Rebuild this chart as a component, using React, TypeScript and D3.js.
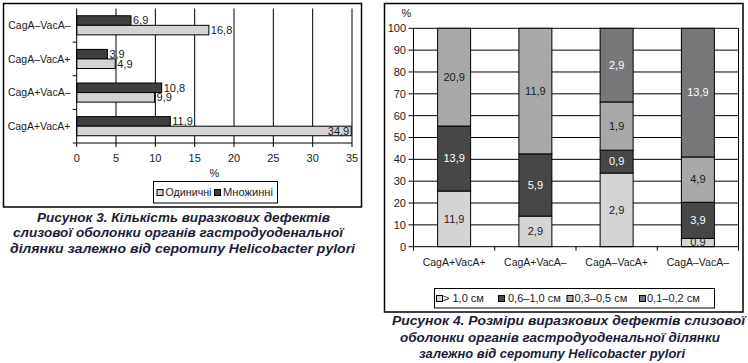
import React, { useRef, useEffect } from "react";
import * as d3 from "d3";

// Figure 3: number of ulcer defects by serotype
const strains = ["CagA+VacA+", "CagA+VacA–", "CagA–VacA+", "CagA–VacA–"];
const singleDefects = [34.9, 9.9, 4.9, 16.8];
const multipleDefects = [11.9, 10.8, 3.9, 6.9];
const countTicks = [0, 5, 10, 15, 20, 25, 30, 35];
const countLegend = ["Одиничні", "Множинні"];

// Figure 4: size of ulcer defects by serotype
const sizeKeys = ["> 1,0 см", "0,6–1,0 см", "0,3–0,5 см", "0,1–0,2 см"];
const over10 = [11.9, 2.9, 2.9, 0.9];
const from06to10 = [13.9, 5.9, 0.9, 3.9];
const from03to05 = [20.9, 11.9, 1.9, 4.9];
const from01to02 = [0, 0, 2.9, 13.9];
const percentTicks = [0, 10, 20, 30, 40, 50, 60, 70, 80, 90, 100];

const caption3 = [
    "Рисунок 3. Кількість виразкових дефектів",
    "слизової оболонки органів гастродуоденальної",
    "ділянки залежно від серотипу Helicobacter pylori",
];
const caption4 = [
    "Рисунок 4. Розміри виразкових дефектів слизової",
    "оболонки органів гастродуоденальної ділянки",
    "залежно від серотипу Helicobacter pylori",
];

const FONT = "'Liberation Sans', Arial, sans-serif";
const INK = "#1a1a1a";
const CAPTION = "#1c1c38";

export default function App() {
    const svgRef = useRef<SVGSVGElement>(null);

    useEffect(() => {
        if (!svgRef.current) return;
        const svg = d3.select(svgRef.current);
        svg.selectAll("*").remove();
        svg.attr("font-family", FONT);

        // ---------- Figure 3 (horizontal grouped bars) ----------
        const g3 = svg.append("g");
        g3.append("rect")
            .attr("x", 3.5).attr("y", 3.5)
            .attr("width", 358).attr("height", 203.5)
            .attr("fill", "#fff").attr("stroke", "#000").attr("stroke-width", 1.5);

        const x = d3.scaleLinear().domain([0, 35]).range([76.7, 352]);
        const y = d3.scaleBand<string>()
            .domain([...strains].reverse())
            .range([8.5, 143]);
        const yInner = d3.scaleBand<string>()
            .domain(["multi", "single"])
            .range([0, y.bandwidth()])
            .paddingInner(0)
            .paddingOuter(0.76);

        // grid
        g3.append("g")
            .selectAll("line")
            .data(countTicks.slice(1))
            .join("line")
            .attr("x1", d => x(d)).attr("x2", d => x(d))
            .attr("y1", 8.5).attr("y2", 143)
            .attr("stroke", "#000").attr("stroke-width", 1);

        const rows = strains.map((s, i) => ({ strain: s, single: singleDefects[i], multi: multipleDefects[i] }));
        const barColors: Record<string, string> = { single: "#d3d3d3", multi: "#3f3f3f" };

        rows.forEach(r => {
            (["multi", "single"] as const).forEach(k => {
                const v = r[k];
                const by = y(r.strain)! + yInner(k)!;
                const bh = yInner.bandwidth();
                g3.append("rect")
                    .attr("x", x(0)).attr("y", by)
                    .attr("width", x(v) - x(0)).attr("height", bh)
                    .attr("fill", barColors[k]).attr("stroke", "#000").attr("stroke-width", 1);
                const label = v.toFixed(1).replace(".", ",");
                const inside = x(v) + 24 > x(35);
                g3.append("text")
                    .attr("x", inside ? x(v) - 2 : x(v) + 2)
                    .attr("y", by + bh / 2)
                    .attr("dy", "0.35em")
                    .attr("text-anchor", inside ? "end" : "start")
                    .attr("font-size", 11)
                    .attr("fill", INK)
                    .text(label);
            });
        });

        // axes
        g3.append("line")
            .attr("x1", x(0)).attr("x2", x(0)).attr("y1", 8.5).attr("y2", 143)
            .attr("stroke", "#000");
        g3.append("g")
            .selectAll("line")
            .data([...y.domain().slice(1), "end"])
            .join("line")
            .attr("x1", x(0) - 4).attr("x2", x(0))
            .attr("y1", d => d === "end" ? 143 : y(d)!)
            .attr("y2", d => d === "end" ? 143 : y(d)!)
            .attr("stroke", "#000");
        g3.append("line")
            .attr("x1", x(0)).attr("x2", x(35)).attr("y1", 143).attr("y2", 143)
            .attr("stroke", "#000");
        g3.append("g")
            .selectAll("line")
            .data(countTicks)
            .join("line")
            .attr("x1", d => x(d)).attr("x2", d => x(d))
            .attr("y1", 143).attr("y2", 147)
            .attr("stroke", "#000");
        g3.append("g")
            .selectAll("text")
            .data(countTicks)
            .join("text")
            .attr("x", d => x(d)).attr("y", 158)
            .attr("dy", "0.35em")
            .attr("text-anchor", "middle")
            .attr("font-size", 11).attr("fill", INK)
            .text(d => d);
        g3.append("text")
            .attr("x", (x(0) + x(35)) / 2).attr("y", 173)
            .attr("dy", "0.35em").attr("text-anchor", "middle")
            .attr("font-size", 11).attr("fill", INK)
            .text("%");
        g3.append("g")
            .selectAll("text")
            .data(strains)
            .join("text")
            .attr("x", 70.5).attr("y", d => y(d)! + y.bandwidth() / 2)
            .attr("dy", "0.35em").attr("text-anchor", "end")
            .attr("font-size", 10.5).attr("fill", INK)
            .text(d => d);

        // legend
        const lg3 = g3.append("g");
        lg3.append("rect")
            .attr("x", 153.5).attr("y", 181.5).attr("width", 124).attr("height", 21.5)
            .attr("fill", "#fff").attr("stroke", "#000");
        const lg3Items = [
            { name: countLegend[0], fill: barColors.single, sx: 157, tx: 165.5, w: 46 },
            { name: countLegend[1], fill: barColors.multi, sx: 214.5, tx: 223, w: 50 },
        ];
        lg3Items.forEach(it => {
            lg3.append("rect")
                .attr("x", it.sx).attr("y", 189.5).attr("width", 6).attr("height", 6)
                .attr("fill", it.fill).attr("stroke", "#000");
            lg3.append("text")
                .attr("x", it.tx).attr("y", 192.5).attr("dy", "0.35em")
                .attr("font-size", 10.5).attr("fill", INK)
                .attr("textLength", it.w).attr("lengthAdjust", "spacingAndGlyphs")
                .text(it.name);
        });

        // caption
        const cap3Layout = [{ x: 37, w: 293 }, { x: 13, w: 330 }, { x: 10, w: 345 }];
        caption3.forEach((line, i) => {
            svg.append("text")
                .attr("x", cap3Layout[i].x).attr("y", 221.5 + i * 15.7)
                .attr("font-size", 13.5).attr("font-weight", "bold").attr("font-style", "italic")
                .attr("textLength", cap3Layout[i].w).attr("lengthAdjust", "spacingAndGlyphs")
                .attr("fill", CAPTION)
                .text(line);
        });

        // ---------- Figure 4 (100% stacked columns) ----------
        const g4 = svg.append("g");
        g4.append("rect")
            .attr("x", 384.5).attr("y", 3.5)
            .attr("width", 358.5).attr("height", 308.5)
            .attr("fill", "#fff").attr("stroke", "#000").attr("stroke-width", 1.5);

        const px = d3.scaleBand<string>()
            .domain(strains)
            .range([413.5, 738.5])
            .paddingInner(0.594)
            .paddingOuter(0.297);
        const py = d3.scaleLinear().domain([0, 1]).range([246.7, 28.3]);

        const sizeRows = strains.map((s, i) => ({
            strain: s,
            [sizeKeys[0]]: over10[i],
            [sizeKeys[1]]: from06to10[i],
            [sizeKeys[2]]: from03to05[i],
            [sizeKeys[3]]: from01to02[i],
        })) as any[];
        const stacked = d3.stack<any>()
            .keys(sizeKeys)
            .offset(d3.stackOffsetExpand)(sizeRows);
        const sizeColor = d3.scaleOrdinal<string>()
            .domain(sizeKeys)
            .range(["#d4d4d4", "#474747", "#a9a9a9", "#77777a"]);
        const sizeText = d3.scaleOrdinal<string>()
            .domain(sizeKeys)
            .range([INK, "#fff", INK, "#fff"]);

        // grid
        g4.append("g")
            .selectAll("line")
            .data(percentTicks.slice(1))
            .join("line")
            .attr("x1", 413.5).attr("x2", 738.5)
            .attr("y1", d => py(d / 100)).attr("y2", d => py(d / 100))
            .attr("stroke", "#000");
        g4.append("line")
            .attr("x1", 738.5).attr("x2", 738.5).attr("y1", py(1)).attr("y2", py(0))
            .attr("stroke", "#000");

        g4.append("defs").append("clipPath").attr("id", "plot4")
            .append("rect")
            .attr("x", 413.5).attr("y", py(1)).attr("width", 325).attr("height", py(0) - py(1));

        stacked.forEach(layer => {
            const key = layer.key;
            g4.append("g")
                .selectAll("rect")
                .data(layer.filter(d => d[1] - d[0] > 0))
                .join("rect")
                .attr("x", d => px(d.data.strain)!)
                .attr("width", px.bandwidth())
                .attr("y", d => py(d[1]))
                .attr("height", d => py(d[0]) - py(d[1]))
                .attr("fill", sizeColor(key))
                .attr("stroke", "#000");
        });
        stacked.forEach(layer => {
            const key = layer.key;
            g4.append("g")
                .attr("clip-path", "url(#plot4)")
                .selectAll("text")
                .data(layer.filter(d => d[1] - d[0] > 0))
                .join("text")
                .attr("x", d => px(d.data.strain)! + px.bandwidth() / 2)
                .attr("y", d => py((d[0] + d[1]) / 2))
                .attr("dy", "0.35em")
                .attr("text-anchor", "middle")
                .attr("font-size", 11)
                .attr("fill", sizeText(key))
                .text(d => (d.data[key] as number).toFixed(1).replace(".", ","));
        });

        // axes
        g4.append("line")
            .attr("x1", 413.5).attr("x2", 413.5).attr("y1", py(1)).attr("y2", py(0))
            .attr("stroke", "#000");
        g4.append("g")
            .selectAll("line")
            .data(percentTicks)
            .join("line")
            .attr("x1", 408.5).attr("x2", 413.5)
            .attr("y1", d => py(d / 100)).attr("y2", d => py(d / 100))
            .attr("stroke", "#000");
        g4.append("g")
            .selectAll("text")
            .data(percentTicks)
            .join("text")
            .attr("x", 406).attr("y", d => py(d / 100))
            .attr("dy", "0.35em").attr("text-anchor", "end")
            .attr("font-size", 11).attr("fill", INK)
            .text(d => d);
        g4.append("text")
            .attr("x", 406.5).attr("y", 12.7).attr("dy", "0.35em")
            .attr("text-anchor", "middle")
            .attr("font-size", 11).attr("fill", INK)
            .text("%");
        g4.append("line")
            .attr("x1", 413.5).attr("x2", 738.5).attr("y1", py(0)).attr("y2", py(0))
            .attr("stroke", "#000");
        const boundaries = [413.5, ...strains.slice(1).map(s => px(s)! - px.step() * px.paddingInner() / 2), 738.5];
        g4.append("g")
            .selectAll("line")
            .data(boundaries)
            .join("line")
            .attr("x1", d => d).attr("x2", d => d)
            .attr("y1", py(0)).attr("y2", py(0) + 4)
            .attr("stroke", "#000");
        g4.append("g")
            .selectAll("text")
            .data(strains)
            .join("text")
            .attr("x", d => px(d)! + px.bandwidth() / 2).attr("y", 262.5)
            .attr("dy", "0.35em").attr("text-anchor", "middle")
            .attr("font-size", 10.5).attr("fill", INK)
            .text(d => d);

        // legend
        const lg4 = g4.append("g");
        lg4.append("rect")
            .attr("x", 434.5).attr("y", 288.5).attr("width", 280).attr("height", 19.5)
            .attr("fill", "#fff").attr("stroke", "#000");
        const lg4Pos = [{ sx: 436.5, tx: 443 }, { sx: 498.5, tx: 508 }, { sx: 567, tx: 574.5 }, { sx: 639.5, tx: 647 }];
        sizeKeys.forEach((k, i) => {
            lg4.append("rect")
                .attr("x", lg4Pos[i].sx).attr("y", 295.5).attr("width", 6).attr("height", 6)
                .attr("fill", sizeColor(k)).attr("stroke", "#000");
            lg4.append("text")
                .attr("x", lg4Pos[i].tx).attr("y", 298.5).attr("dy", "0.35em")
                .attr("font-size", 11).attr("fill", INK)
                .text(k);
        });

        const cap4Layout = [{ x: 392, w: 353 }, { x: 400, w: 320 }, { x: 419, w: 266 }];
        caption4.forEach((line, i) => {
            svg.append("text")
                .attr("x", cap4Layout[i].x).attr("y", 325 + i * 16.5)
                .attr("font-size", 13.5).attr("font-weight", "bold").attr("font-style", "italic")
                .attr("textLength", cap4Layout[i].w).attr("lengthAdjust", "spacingAndGlyphs")
                .attr("fill", CAPTION)
                .text(line);
        });
    }, []);

    return (
        <div style={{ position: "absolute", left: 0, top: 0, background: "#fff" }}>
            <svg ref={svgRef} width={748} height={363} />
        </div>
    );
}
